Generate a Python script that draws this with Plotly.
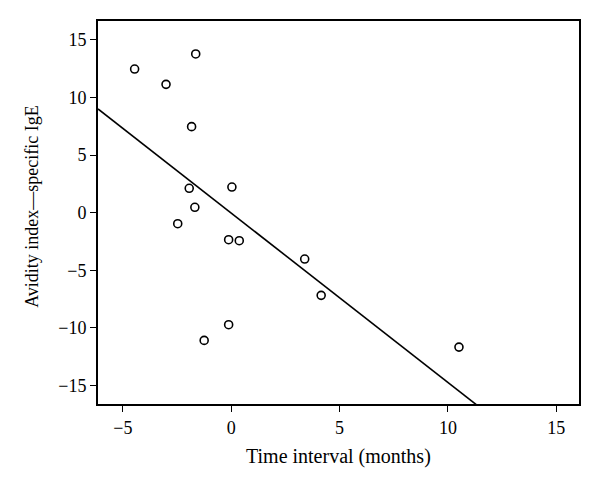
import plotly.graph_objects as go

# Data
time_interval = [-4.46, -3.01, -1.64, -1.83, -1.94, 0.03, -1.68, -2.47, -0.12, 0.37,
                 -0.12, -1.25, 3.39, 4.15, 10.51]
avidity_igE = [12.47, 11.14, 13.78, 7.47, 2.12, 2.23, 0.47, -0.95, -2.34, -2.43,
               -9.72, -11.08, -4.02, -7.17, -11.66]

fit_slope = -1.47
fit_intercept = -0.03
fit_x = [-6.15, 12.0]
fit_y = [fit_intercept + fit_slope * x for x in fit_x]

x_ticks = [-5, 0, 5, 10, 15]
y_ticks = [-15, -10, -5, 0, 5, 10, 15]

x_title = "Time interval (months)"
y_title = "Avidity index\u2014specific IgE"

font_family = "Liberation Serif"

fig = go.Figure()
fig.add_trace(go.Scatter(
    x=fit_x, y=fit_y, mode="lines",
    line=dict(color="black", width=1.6),
    showlegend=False, hoverinfo="skip",
))
fig.add_trace(go.Scatter(
    x=time_interval, y=avidity_igE, mode="markers",
    marker=dict(symbol="circle-open", size=8, color="black", line=dict(width=1.6, color="black")),
    showlegend=False,
))

axis_common = dict(
    showline=True, linecolor="black", linewidth=1.8, mirror=True,
    ticks="outside", ticklen=6, tickwidth=1.3, tickcolor="black",
    showgrid=False, zeroline=False, automargin=False,
    tickfont=dict(family=font_family, size=18, color="black"),
)

fig.update_xaxes(
    range=[-6.15, 16.05], tickvals=x_ticks, ticktext=[str(v).replace("-", "\u2212") for v in x_ticks],
    **axis_common,
)
fig.update_yaxes(
    range=[-16.6, 16.64], tickvals=y_ticks, ticktext=[str(v).replace("-", "\u2212") for v in y_ticks],
    **axis_common,
)

fig.add_annotation(
    text=x_title, xref="paper", yref="paper", x=0.5, y=-0.138,
    xanchor="center", yanchor="middle", showarrow=False,
    font=dict(family=font_family, size=20, color="black"),
)
fig.add_annotation(
    text=y_title, xref="paper", yref="paper", x=-0.137, y=0.515,
    xanchor="center", yanchor="middle", showarrow=False, textangle=-90,
    font=dict(family=font_family, size=18, color="black"),
)

# page body adds an 8px margin, so the figure is 8px smaller than the window
fig.update_layout(
    width=592, height=482,
    margin=dict(l=90, r=21, t=13, b=86),
    paper_bgcolor="white", plot_bgcolor="white",
    font=dict(family=font_family, color="black"),
)

fig.write_html("out.html")
